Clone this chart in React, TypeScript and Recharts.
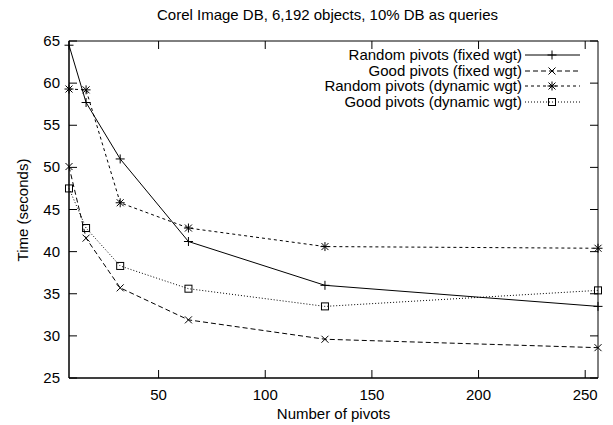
import { LineChart, Line, XAxis, YAxis, ReferenceArea } from 'recharts'

const pivots = [8, 16, 32, 64, 128, 256]
const randomFixed = [64.5, 57.7, 51.0, 41.2, 36.0, 33.5]
const goodFixed = [50.1, 41.6, 35.7, 31.9, 29.6, 28.6]
const randomDynamic = [59.3, 59.2, 45.8, 42.8, 40.6, 40.4]
const goodDynamic = [47.5, 42.8, 38.3, 35.6, 33.5, 35.4]

const xTicks = [50, 100, 150, 200, 250]
const yTicks = [25, 30, 35, 40, 45, 50, 55, 60, 65]

const data = pivots.map((p, i) => ({
    pivots: p,
    rf: randomFixed[i],
    gf: goodFixed[i],
    rd: randomDynamic[i],
    gd: goodDynamic[i],
}))

const FONT = '"Liberation Sans", Arial, sans-serif'

const W = 613
const H = 425
const margin = { top: 41, right: 15, bottom: 46, left: 68 }
const PLOT_W = W - margin.left - margin.right - 1
const PLOT_H = H - margin.top - margin.bottom - 1

type Mark = 'plus' | 'cross' | 'star' | 'square'

function marker(kind: Mark, cx: number, cy: number) {
    const s = 4.5
    const c = 3.5
    const plus = (
        <>
            <line x1={cx - s} y1={cy} x2={cx + s} y2={cy} />
            <line x1={cx} y1={cy - s} x2={cx} y2={cy + s} />
        </>
    )
    const cross = (
        <>
            <line x1={cx - c} y1={cy - c} x2={cx + c} y2={cy + c} />
            <line x1={cx - c} y1={cy + c} x2={cx + c} y2={cy - c} />
        </>
    )
    if (kind === 'plus') return plus
    if (kind === 'cross') return cross
    if (kind === 'star') return <>{plus}{cross}</>
    return <rect x={cx - 3.5} y={cy - 3.5} width={7} height={7} fill="none" />
}

const dotFor = (kind: Mark) => (props: any) => {
    const { cx, cy, index } = props
    return (
        <g key={`${kind}-${index}`} stroke="#000" strokeWidth={1} fill="none">
            {marker(kind, cx, cy)}
        </g>
    )
}

const series: { key: string; name: string; dash?: string; mark: Mark }[] = [
    { key: 'rf', name: 'Random pivots (fixed wgt)', mark: 'plus' },
    { key: 'gf', name: 'Good pivots (fixed wgt)', dash: '5 3', mark: 'cross' },
    { key: 'rd', name: 'Random pivots (dynamic wgt)', dash: '3 3', mark: 'star' },
    { key: 'gd', name: 'Good pivots (dynamic wgt)', dash: '1 2', mark: 'square' },
]

// gnuplot style: inward ticks, mirrored on the opposite border
const BottomTick = (props: any) => {
    const { x, y, payload } = props
    return (
        <g>
            <line x1={x} y1={y} x2={x} y2={y - 8} stroke="#000" strokeWidth={1} />
            <line x1={x} y1={y - PLOT_H} x2={x} y2={y - PLOT_H + 8} stroke="#000" strokeWidth={1} />
            <text x={x} y={y + 22} textAnchor="middle" fontSize={15} fontFamily={FONT} fill="#000">
                {payload.value}
            </text>
        </g>
    )
}

const LeftTick = (props: any) => {
    const { x, y, payload } = props
    return (
        <g>
            <line x1={x} y1={y} x2={x + 8} y2={y} stroke="#000" strokeWidth={1} />
            <line x1={x + PLOT_W} y1={y} x2={x + PLOT_W - 8} y2={y} stroke="#000" strokeWidth={1} />
            <text x={x - 9} y={y + 5} textAnchor="end" fontSize={15} fontFamily={FONT} fill="#000">
                {payload.value}
            </text>
        </g>
    )
}

const KeyBox = () => (
    <div style={{ position: 'absolute', top: 47, left: 300, fontFamily: FONT, fontSize: 15, color: '#000' }}>
        {series.map((s) => (
            <div key={s.key} style={{ display: 'flex', alignItems: 'center', height: 15.5 }}>
                <div style={{ width: 222, textAlign: 'right', whiteSpace: 'nowrap' }}>{s.name}</div>
                <svg width={66} height={15.5} style={{ display: 'block' }}>
                    <line x1={3} y1={8} x2={58} y2={8} stroke="#000" strokeDasharray={s.dash} />
                    <g stroke="#000" fill="none">{marker(s.mark, 30, 8)}</g>
                </svg>
            </div>
        ))}
    </div>
)

const text15 = { position: 'absolute' as const, fontFamily: FONT, fontSize: 15, color: '#000', whiteSpace: 'nowrap' as const }

export default function App() {
    return (
        <div style={{ position: 'absolute', left: 0, top: 0, width: W, height: H, background: '#fff' }}>
            <LineChart width={W} height={H} data={data} margin={margin}>
                <XAxis
                    dataKey="pivots"
                    type="number"
                    domain={[8, 256]}
                    ticks={xTicks}
                    height={1}
                    tickSize={0}
                    tickMargin={0}
                    tick={<BottomTick />}
                    axisLine={{ stroke: '#000' }}
                />
                <YAxis
                    type="number"
                    domain={[25, 65]}
                    ticks={yTicks}
                    width={1}
                    tickSize={0}
                    tickMargin={0}
                    tick={<LeftTick />}
                    axisLine={{ stroke: '#000' }}
                />
                <ReferenceArea x1={8} x2={256} y1={25} y2={65} stroke="#000" strokeWidth={1} fill="#fff" fillOpacity={0} />
                {series.map((s) => (
                    <Line
                        key={s.key}
                        dataKey={s.key}
                        name={s.name}
                        type="linear"
                        stroke="#000"
                        strokeWidth={1}
                        strokeDasharray={s.dash}
                        dot={dotFor(s.mark)}
                        activeDot={false}
                        isAnimationActive={false}
                    />
                ))}
            </LineChart>
            <div style={{ ...text15, top: 6, left: 0, width: 655, textAlign: 'center' }}>
                Corel Image DB, 6,192 objects, 10% DB as queries
            </div>
            <div style={{ ...text15, top: 405, left: 0, width: 667, textAlign: 'center' }}>Number of pivots</div>
            <div
                style={{
                    ...text15,
                    top: 200,
                    left: 22,
                    width: 0,
                    height: 0,
                }}
            >
                <div style={{ transform: 'translate(-50%, -50%) rotate(-90deg)', display: 'inline-block', position: 'absolute', left: 0, top: 10 }}>
                    Time (seconds)
                </div>
            </div>
            <KeyBox />
        </div>
    )
}
